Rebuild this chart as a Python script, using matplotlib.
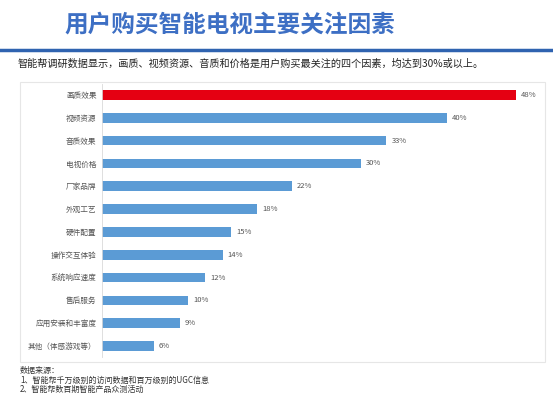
import matplotlib.pyplot as plt
from matplotlib.patches import Rectangle
from matplotlib.lines import Line2D

plt.rcParams['font.family'] = ['Noto Sans CJK SC', 'DejaVu Sans']

factors = ["画质效果", "视频资源", "音质效果", "电视价格", "厂家品牌", "外观工艺",
           "硬件配置", "操作交互体验", "系统响应速度", "售后服务", "应用安装和丰富度",
           "其他（体感游戏等）"]
shares = [48, 40, 33, 30, 22, 18, 15, 14, 12, 10, 9, 6]

fig = plt.figure(figsize=(5.53, 4.07), dpi=100)
W, H = 553, 407

# frame around chart area
fig.patches.append(Rectangle((20 / W, 1 - 362 / H), 525 / W, 280 / H,
                             transform=fig.transFigure, fill=False,
                             edgecolor="#e6e6e6", linewidth=0.8))

fig.text(230 / W, 1 - 25 / H, "用户购买智能电视主要关注因素", ha="center", va="center",
         fontsize=17, fontweight="bold", color="#3d6fc4")
fig.add_artist(Line2D([0, 1], [1 - 50 / H] * 2, color="#2f63b0", linewidth=2.5,
                      transform=fig.transFigure))
fig.text(18 / W, 1 - 64 / H,
         "智能帮调研数据显示，画质、视频资源、音质和价格是用户购买最关注的四个因素，均达到30%或以上。",
         ha="left", va="center", fontsize=7.3, color="#222222")

ax = fig.add_axes([102 / W, 1 - 357.4 / H, 431 / W, 273.8 / H])
ypos = list(range(len(factors)))
colors = ["#e50012"] + ["#5b9bd5"] * (len(factors) - 1)
ax.barh(ypos, shares, height=0.42, color=colors)
for y, v in zip(ypos, shares):
    ax.text(v + 0.6, y, f"{v}%", va="center", ha="left", fontsize=5.5, color="#555555")
ax.set_xlim(0, 50)
ax.set_ylim(len(factors) - 0.5, -0.5)
ax.set_yticks(ypos)
ax.set_yticklabels(factors, fontsize=5.5, color="#555555")
ax.set_xticks([])
ax.tick_params(axis="y", length=0, pad=4)
for s in ["top", "right", "bottom"]:
    ax.spines[s].set_visible(False)
ax.spines["left"].set_color("#d9d9d9")
ax.spines["left"].set_linewidth(0.6)

fig.text(20 / W, 1 - 371 / H, "数据来源：", fontsize=5.8, va="center", color="#333333")
fig.text(20 / W, 1 - 380 / H, "1、智能帮千万级别的访问数据和百万级别的UGC信息", fontsize=5.8,
         va="center", color="#333333")
fig.text(20 / W, 1 - 389 / H, "2、智能帮数百期智能产品众测活动", fontsize=5.8,
         va="center", color="#333333")

fig.savefig("out.png", dpi=100)
